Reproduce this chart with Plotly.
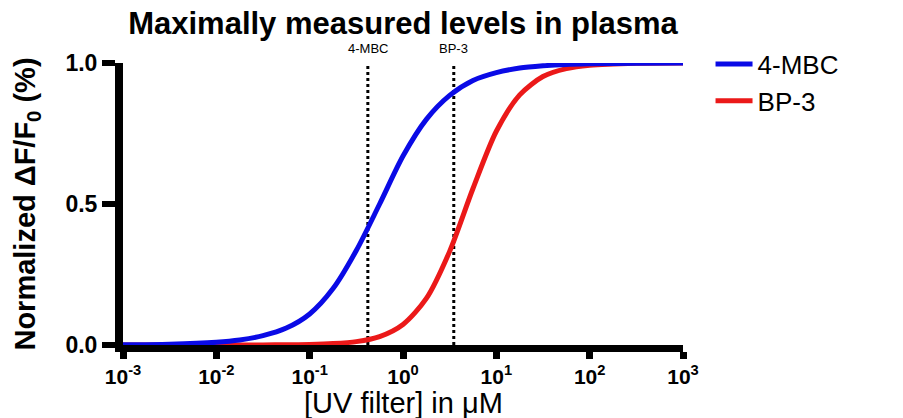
import math
import plotly.graph_objects as go

conc_um = [1e-3, 3.16e-3, 1e-2, 1.78e-2, 3.16e-2, 5.62e-2, 0.1, 0.178, 0.316, 0.562,
           1, 1.78, 3.16, 5.62, 10, 17.8, 31.6, 56.2, 100, 316, 1000]
mbc_resp = [0.001, 0.003, 0.010, 0.018, 0.033, 0.060, 0.110, 0.200, 0.335, 0.500,
            0.670, 0.800, 0.885, 0.938, 0.966, 0.982, 0.990, 0.995, 0.997, 0.999, 1.000]
bp3_resp = [0.000, 0.000, 0.000, 0.000, 0.000, 0.001, 0.002, 0.005, 0.012, 0.030,
            0.073, 0.165, 0.332, 0.555, 0.758, 0.887, 0.952, 0.980, 0.992, 0.999, 1.000]

# Maximally measured plasma levels (µM)
level_names = ["4-MBC", "BP-3"]
level_conc = [0.42, 3.5]

x_tickvals = [1e-3, 1e-2, 1e-1, 1, 10, 100, 1000]
x_ticktext = ["10<sup>-3</sup>", "10<sup>-2</sup>", "10<sup>-1</sup>", "10<sup>0</sup>",
              "10<sup>1</sup>", "10<sup>2</sup>", "10<sup>3</sup>"]
y_tickvals = [0, 0.5, 1.0]
y_ticktext = ["0.0", "0.5", "1.0"]

FONT = "Liberation Sans, Arial, sans-serif"

fig = go.Figure()

# dotted reference lines
for name, c in zip(level_names, level_conc):
    fig.add_trace(go.Scatter(x=[c, c], y=[0, 1], mode="lines",
                             line=dict(color="black", width=3, dash="dot"),
                             showlegend=False, hoverinfo="skip", cliponaxis=False))
    fig.add_annotation(x=math.log10(c), y=1, xref="x", yref="y", text=name, showarrow=False,
                       yanchor="bottom", yshift=5, font=dict(family=FONT, size=13, color="black"))

fig.add_trace(go.Scatter(x=conc_um, y=bp3_resp, mode="lines", name="BP-3",
                         line=dict(color="rgb(235,25,25)", width=5, shape="spline", smoothing=0.8),
                         cliponaxis=False))
fig.add_trace(go.Scatter(x=conc_um, y=mbc_resp, mode="lines", name="4-MBC",
                         line=dict(color="rgb(10,10,230)", width=5, shape="spline", smoothing=0.8),
                         cliponaxis=False))

# x-axis title placed as a paper annotation so it sits where the reference has it
fig.add_annotation(x=0.5, y=0, xref="paper", yref="paper", text="[UV filter] in μM",
                   showarrow=False, yanchor="middle", yshift=-58,
                   font=dict(family=FONT, size=29, color="black"))

fig.update_layout(
    width=903, height=418,
    margin=dict(l=115, r=228, t=55, b=81, autoexpand=False),
    paper_bgcolor="white", plot_bgcolor="white",
    font=dict(family=FONT, color="black"),
    title=dict(text="<b>Maximally measured levels in plasma</b>",
               x=0.5, xref="paper", xanchor="center",
               y=0.963, yref="container", yanchor="middle",
               font=dict(family=FONT, size=31, color="black")),
    legend=dict(x=0.778, xanchor="left", xref="container",
                y=0.922, yanchor="top", yref="container",
                traceorder="reversed", font=dict(family=FONT, size=26, color="black"),
                itemwidth=37, tracegroupgap=0, bgcolor="rgba(0,0,0,0)"),
    showlegend=True,
)

fig.update_xaxes(type="log", range=[-3, 3], tickvals=x_tickvals, ticktext=x_ticktext,
                 showgrid=False, zeroline=False, showline=True, linecolor="black", linewidth=7,
                 ticks="outside", ticklen=7, tickwidth=7, tickcolor="black",
                 tickfont=dict(family=FONT, size=21, color="black", weight="bold"),
                 layer="below traces", automargin=False)
fig.update_yaxes(range=[0, 1], tickvals=y_tickvals, ticktext=y_ticktext,
                 showgrid=False, zeroline=False, showline=True, linecolor="black", linewidth=8,
                 ticks="outside", ticklen=13, tickwidth=6, tickcolor="black",
                 tickfont=dict(family=FONT, size=23, color="black", weight="bold"),
                 layer="below traces", automargin=False,
                 title=dict(text="<b>Normalized ΔF/F<sub>0</sub> (%)</b>", standoff=24,
                            font=dict(family=FONT, size=29, color="black")))

fig.write_html("out.html")
